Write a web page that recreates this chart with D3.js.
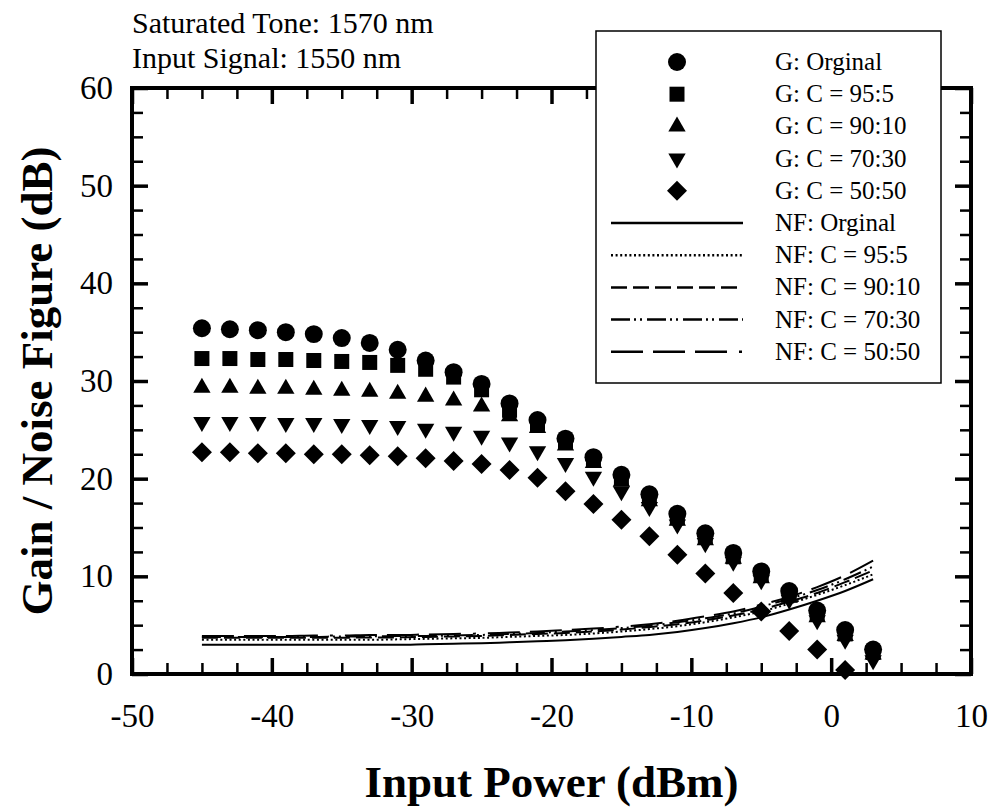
<!DOCTYPE html>
<html>
<head>
<meta charset="utf-8">
<script src="https://cdn.jsdelivr.net/npm/d3@7"></script>
<style>
  body { margin: 0; background: #fff; }
  svg { display: block; }
  text { font-family: "Liberation Serif", "Times New Roman", serif; fill: #000; }
</style>
</head>
<body>
<svg id="chart" width="990" height="808"></svg>
<script>
// Input power (dBm) where gain and noise figure were taken
const inputPower = [-45, -43, -41, -39, -37, -35, -33, -31, -29, -27, -25, -23, -21, -19, -17, -15, -13, -11, -9, -7, -5, -3, -1, 1, 3];

// Gain (dB)
const gainOriginal = [35.4, 35.3, 35.2, 35.0, 34.8, 34.4, 33.9, 33.2, 32.1, 30.9, 29.7, 27.7, 26.0, 24.1, 22.2, 20.4, 18.4, 16.4, 14.4, 12.4, 10.5, 8.5, 6.5, 4.5, 2.5];
const gain95 = [32.3, 32.3, 32.2, 32.2, 32.1, 32.0, 31.9, 31.6, 31.2, 30.4, 29.1, 27.0, 25.6, 23.7, 21.9, 20.0, 18.0, 16.0, 14.0, 12.0, 10.1, 8.1, 6.1, 4.1, 2.2];
const gain90 = [29.3, 29.3, 29.2, 29.2, 29.1, 29.0, 28.9, 28.7, 28.4, 28.0, 27.4, 26.4, 25.2, 23.4, 21.6, 19.7, 17.7, 15.7, 13.7, 11.8, 9.8, 7.8, 5.8, 3.9, 2.0];
const gain70 = [25.8, 25.8, 25.8, 25.7, 25.7, 25.6, 25.5, 25.4, 25.1, 24.8, 24.4, 23.7, 22.8, 21.6, 20.2, 18.7, 17.1, 15.3, 13.4, 11.5, 9.6, 7.6, 5.5, 3.5, 1.4];
const gain50 = [22.7, 22.7, 22.6, 22.6, 22.5, 22.5, 22.4, 22.3, 22.1, 21.8, 21.5, 20.9, 20.1, 18.7, 17.4, 15.8, 14.1, 12.2, 10.3, 8.3, 6.4, 4.4, 2.5, 0.4, null];

// Noise figure (dB)
const nfOriginal = [3.0, 3.0, 3.0, 3.0, 3.0, 3.0, 3.0, 3.0, 3.05, 3.1, 3.15, 3.25, 3.35, 3.45, 3.6, 3.8, 4.0, 4.3, 4.7, 5.2, 5.8, 6.6, 7.5, 8.5, 9.7];
const nf95 = [3.5, 3.5, 3.5, 3.5, 3.5, 3.5, 3.5, 3.55, 3.6, 3.65, 3.7, 3.8, 3.9, 4.0, 4.15, 4.35, 4.6, 4.9, 5.3, 5.8, 6.4, 7.2, 8.1, 9.1, 10.2];
const nf90 = [3.7, 3.7, 3.7, 3.7, 3.7, 3.7, 3.75, 3.75, 3.8, 3.85, 3.9, 4.0, 4.1, 4.2, 4.35, 4.55, 4.8, 5.1, 5.5, 6.0, 6.6, 7.4, 8.3, 9.4, 10.6];
const nf70 = [3.8, 3.8, 3.8, 3.8, 3.8, 3.85, 3.85, 3.9, 3.9, 3.95, 4.0, 4.1, 4.2, 4.35, 4.5, 4.7, 4.95, 5.3, 5.7, 6.2, 6.9, 7.7, 8.6, 9.7, 11.0];
const nf50 = [3.9, 3.9, 3.9, 3.9, 3.95, 3.95, 4.0, 4.0, 4.05, 4.1, 4.15, 4.25, 4.35, 4.5, 4.65, 4.85, 5.1, 5.45, 5.9, 6.4, 7.1, 7.9, 8.9, 10.1, 11.6];

const gainLabels = ["G: Orginal", "G: C = 95:5", "G: C = 90:10", "G: C = 70:30", "G: C = 50:50"];
const nfLabels = ["NF: Orginal", "NF: C = 95:5", "NF: C = 90:10", "NF: C = 70:30", "NF: C = 50:50"];
const xTicks = [-50, -40, -30, -20, -10, 0, 10];
const yTicks = [0, 10, 20, 30, 40, 50, 60];
const notes = ["Saturated Tone: 1570 nm", "Input Signal: 1550 nm"];

function drawChart() {
    const svg = d3.select("#chart");
    svg.selectAll("*").remove();

    const plot = { left: 132, right: 971, top: 88, bottom: 674 };

    const x = d3.scaleLinear().domain([-50, 10]).range([plot.left, plot.right]);
    const y = d3.scaleLinear().domain([0, 60]).range([plot.bottom, plot.top]);

    // marker shapes: circle, square, up triangle, down triangle, diamond
    const shapes = [
        { type: d3.symbolCircle, size: 254, rotate: 0 },
        { type: d3.symbolSquare, size: 225, rotate: 0 },
        { type: d3.symbolTriangle, size: 130, rotate: 0 },
        { type: d3.symbolTriangle, size: 130, rotate: 180 },
        { type: d3.symbolSquare, size: 200, rotate: 45 }
    ];
    const dashes = [null, "2,2.6", "16,6", "19,4,2,4,2,5", "32,10,32,10,32,12,3,12"];

    const gainSeries = [gainOriginal, gain95, gain90, gain70, gain50];
    const nfSeries = [nfOriginal, nf95, nf90, nf70, nf50];

    // NF curves
    const line = d3.line()
        .x((d, i) => x(inputPower[i]))
        .y(d => y(d))
        .curve(d3.curveMonotoneX);

    nfSeries.forEach((s, k) => {
        svg.append("path")
            .datum(s)
            .attr("d", line)
            .attr("fill", "none")
            .attr("stroke", "#000")
            .attr("stroke-width", 2)
            .attr("stroke-dasharray", dashes[k]);
    });

    // gain markers
    gainSeries.forEach((s, k) => {
        const pts = s.map((v, i) => ({ x: inputPower[i], v: v })).filter(d => d.v !== null);
        svg.append("g").selectAll("path")
            .data(pts)
            .enter().append("path")
            .attr("d", d3.symbol().type(shapes[k].type).size(shapes[k].size))
            .attr("transform", d => `translate(${x(d.x)},${y(d.v)}) rotate(${shapes[k].rotate})`)
            .attr("fill", "#000");
    });

    // minor tick values every 2.5
    const xMinor = d3.range(-50, 10.01, 2.5).filter(v => !xTicks.includes(v));
    const yMinor = d3.range(0, 60.01, 2.5).filter(v => !yTicks.includes(v));
    const plain = d => String(d);  // keep the ascii hyphen

    function styleAxis(g, width) {
        g.select(".domain").remove();
        g.selectAll(".tick line").attr("stroke", "#000").attr("stroke-width", width);
    }

    // bottom
    svg.append("g")
        .attr("transform", `translate(0,${plot.bottom})`)
        .call(d3.axisBottom(x).tickValues(xTicks).tickSize(-16).tickPadding(30).tickFormat(plain))
        .call(g => styleAxis(g, 3.5))
        .selectAll("text").attr("font-size", "33px").attr("font-family", "Liberation Serif, serif");
    svg.append("g")
        .attr("transform", `translate(0,${plot.bottom})`)
        .call(d3.axisBottom(x).tickValues(xMinor).tickSize(-11).tickFormat(""))
        .call(g => styleAxis(g, 2.5));

    // left
    svg.append("g")
        .attr("transform", `translate(${plot.left},0)`)
        .call(d3.axisLeft(y).tickValues(yTicks).tickSize(-16).tickPadding(19).tickFormat(plain))
        .call(g => styleAxis(g, 3.5))
        .selectAll("text").attr("font-size", "33px").attr("font-family", "Liberation Serif, serif");
    svg.append("g")
        .attr("transform", `translate(${plot.left},0)`)
        .call(d3.axisLeft(y).tickValues(yMinor).tickSize(-11).tickFormat(""))
        .call(g => styleAxis(g, 2.5));

    // top
    svg.append("g")
        .attr("transform", `translate(0,${plot.top})`)
        .call(d3.axisTop(x).tickValues(xTicks).tickSize(-16).tickFormat(""))
        .call(g => styleAxis(g, 3.5));
    svg.append("g")
        .attr("transform", `translate(0,${plot.top})`)
        .call(d3.axisTop(x).tickValues(xMinor).tickSize(-11).tickFormat(""))
        .call(g => styleAxis(g, 2.5));

    // right
    svg.append("g")
        .attr("transform", `translate(${plot.right},0)`)
        .call(d3.axisRight(y).tickValues(yTicks).tickSize(-16).tickFormat(""))
        .call(g => styleAxis(g, 3.5));
    svg.append("g")
        .attr("transform", `translate(${plot.right},0)`)
        .call(d3.axisRight(y).tickValues(yMinor).tickSize(-11).tickFormat(""))
        .call(g => styleAxis(g, 2.5));

    // frame
    svg.append("rect")
        .attr("x", plot.left)
        .attr("y", plot.top)
        .attr("width", plot.right - plot.left)
        .attr("height", plot.bottom - plot.top)
        .attr("fill", "none")
        .attr("stroke", "#000")
        .attr("stroke-width", 4);

    // axis titles
    svg.append("text")
        .attr("x", (plot.left + plot.right) / 2)
        .attr("y", 797)
        .attr("text-anchor", "middle")
        .attr("font-size", "45px")
        .attr("font-weight", "bold")
        .text("Input Power (dBm)");

    svg.append("text")
        .attr("transform", `translate(52,${(plot.top + plot.bottom) / 2}) rotate(-90)`)
        .attr("text-anchor", "middle")
        .attr("font-size", "45px")
        .attr("font-weight", "bold")
        .text("Gain / Noise Figure (dB)");

    // notes
    notes.forEach((t, i) => {
        svg.append("text")
            .attr("x", 132)
            .attr("y", 33 + i * 35)
            .attr("font-size", "30px")
            .text(t);
    });

    // legend
    const lg = { left: 596, top: 31, width: 345, height: 352, row: 32.2, first: 62 };
    svg.append("rect")
        .attr("x", lg.left)
        .attr("y", lg.top)
        .attr("width", lg.width)
        .attr("height", lg.height)
        .attr("fill", "#fff")
        .attr("stroke", "#000")
        .attr("stroke-width", 1.5);

    gainLabels.forEach((t, k) => {
        const cy = lg.first + k * lg.row;
        svg.append("path")
            .attr("d", d3.symbol().type(shapes[k].type).size(shapes[k].size)())
            .attr("transform", `translate(677,${cy}) rotate(${shapes[k].rotate})`)
            .attr("fill", "#000");
        svg.append("text")
            .attr("x", 775)
            .attr("y", cy + 8)
            .attr("font-size", "25px")
            .text(t);
    });

    nfLabels.forEach((t, k) => {
        const cy = lg.first + (k + 5) * lg.row;
        svg.append("line")
            .attr("x1", 611).attr("x2", 743)
            .attr("y1", cy).attr("y2", cy)
            .attr("stroke", "#000")
            .attr("stroke-width", 2.5)
            .attr("stroke-dasharray", dashes[k]);
        svg.append("text")
            .attr("x", 775)
            .attr("y", cy + 8)
            .attr("font-size", "25px")
            .text(t);
    });
}

drawChart();
</script>
</body>
</html>
